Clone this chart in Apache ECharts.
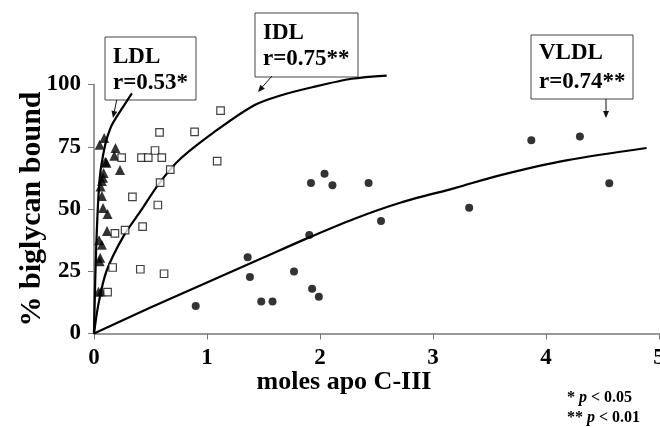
<!DOCTYPE html>
<html>
<head>
<meta charset="utf-8">
<script src="https://cdn.jsdelivr.net/npm/echarts@6/dist/echarts.min.js"></script>
<style>html,body{margin:0;padding:0;background:#fff;}#c{width:660px;height:427px;}</style>
</head>
<body>
<div id="c"></div>
<script>
// ---- data ----
const xTicks = [0, 1, 2, 3, 4, 5];
const yTicks = [0, 25, 50, 75, 100];

const ldlX = [0.09, 0.05, 0.19, 0.18, 0.10, 0.11, 0.23, 0.085, 0.08, 0.07, 0.058, 0.07, 0.08, 0.12, 0.115, 0.045, 0.07, 0.055, 0.05, 0.04, 0.065];
const ldlY = [78.5, 75.8, 74.5, 71.4, 69.0, 68.6, 65.7, 64.5, 62.6, 61.2, 59.0, 55.2, 50.4, 48.0, 41.2, 37.5, 35.6, 30.4, 29.0, 16.8, 17.0];

const idlX = [1.12, 0.58, 0.89, 0.245, 0.42, 0.48, 0.54, 0.60, 1.09, 0.675, 0.585, 0.34, 0.565, 0.43, 0.275, 0.185, 0.165, 0.41, 0.62, 0.12];
const idlY = [89.5, 80.8, 81.0, 70.6, 70.6, 70.6, 73.5, 70.6, 69.2, 65.8, 60.6, 54.9, 51.6, 42.9, 41.5, 40.2, 26.5, 25.8, 24.0, 16.6];

const vldlX = [0.90, 1.36, 1.38, 1.48, 1.58, 1.77, 1.905, 1.92, 1.93, 1.99, 2.04, 2.11, 2.43, 2.54, 3.32, 3.87, 4.30, 4.56];
const vldlY = [11.0, 30.6, 22.7, 12.9, 12.9, 24.9, 39.6, 60.4, 18.0, 14.8, 64.2, 59.5, 60.4, 45.2, 50.5, 77.6, 79.1, 60.3];

// fitted curves
const ldlFitX = [0, 0.02, 0.05, 0.10, 0.15, 0.20, 0.25, 0.30, 0.335];
const ldlFitY = [0, 35, 62, 76, 83, 87, 90.5, 94, 96.4];

const idlFitX = [0, 0.04, 0.11, 0.26, 0.41, 0.58, 0.76, 1.06, 1.41, 1.65, 1.94, 2.28, 2.59];
const idlFitY = [0, 12, 25, 39, 49, 60.5, 70, 80.8, 91.5, 95.6, 99, 102.3, 103.6];

const vldlFitX = [0, 0.5, 1.0, 1.5, 1.9, 2.3, 2.71, 3.2, 3.59, 4.18, 4.89];
const vldlFitY = [0, 10.4, 20.5, 30.5, 38.5, 46, 52.5, 58.5, 63.5, 69.5, 74.5];

const FONT = '"Liberation Serif", "Times New Roman", serif';
const zip = (a, b) => a.map((v, i) => [v, b[i]]);

function arrow(x1, y1, x2, y2) {
  const ang = Math.atan2(y2 - y1, x2 - x1);
  const L = 7, W = 3;
  const bx = x2 - L * Math.cos(ang), by = y2 - L * Math.sin(ang);
  const px = -Math.sin(ang) * W, py = Math.cos(ang) * W;
  return [
    { type: 'line', shape: { x1: x1, y1: y1, x2: bx, y2: by }, style: { stroke: '#111', lineWidth: 1 } },
    { type: 'polygon', shape: { points: [[x2, y2], [bx + px, by + py], [bx - px, by - py]] }, style: { fill: '#111' } }
  ];
}
function box(x, y, w, h, t1, t2, ty1, ty2) {
  return [
    { type: 'rect', shape: { x: x, y: y, width: w, height: h }, style: { fill: '#fff', stroke: '#444', lineWidth: 1 } },
    { type: 'text', x: x + 8, y: ty1, style: { text: t1, font: 'bold 23px ' + FONT, fill: '#000', verticalAlign: 'middle' } },
    { type: 'text', x: x + 8, y: ty2, style: { text: t2, font: 'bold 23px ' + FONT, fill: '#000', verticalAlign: 'middle' } }
  ];
}

const chart = echarts.init(document.getElementById('c'), null, { renderer: 'canvas' });
const lineCommon = { type: 'line', showSymbol: false, smooth: 0.3, clip: false, lineStyle: { color: '#000', width: 2.2 }, silent: true, z: 3 };

chart.setOption({
  animation: false,
  backgroundColor: '#fff',
  grid: { left: 94, right: 1, top: 84.5, bottom: 93.5, containLabel: false, outerBoundsMode: 'none' },
  xAxis: {
    type: 'value', min: 0, max: 5, interval: 1,
    name: 'moles apo C-III', nameLocation: 'middle', nameGap: 36, nameMoveOverlap: false,
    nameTextStyle: { fontFamily: FONT, fontWeight: 'bold', fontSize: 26, color: '#000', verticalAlign: 'top', padding: [0, 65, 0, 0] },
    axisLine: { lineStyle: { color: '#777', width: 1.5 } },
    axisTick: { show: true, length: 6, lineStyle: { color: '#777' } },
    axisLabel: { fontFamily: FONT, fontWeight: 'bold', fontSize: 23, color: '#000', margin: 13,
      formatter: v => String(xTicks[xTicks.indexOf(v)]) },
    splitLine: { show: false }
  },
  yAxis: {
    type: 'value', min: 0, max: 100, interval: 25,
    name: '% biglycan bound', nameLocation: 'middle', nameGap: 47, nameRotate: 90, nameMoveOverlap: false,
    nameTextStyle: { fontFamily: FONT, fontWeight: 'bold', fontSize: 30, color: '#000' },
    axisLine: { show: true, lineStyle: { color: '#777', width: 1.5 } },
    axisTick: { show: true, length: 6, lineStyle: { color: '#777' } },
    axisLabel: { fontFamily: FONT, fontWeight: 'bold', fontSize: 23, color: '#000', margin: 13,
      formatter: v => String(yTicks[yTicks.indexOf(v)]) },
    splitLine: { show: false }
  },
  series: [
    Object.assign({ name: 'LDL fit', data: zip(ldlFitX, ldlFitY) }, lineCommon),
    Object.assign({ name: 'IDL fit', data: zip(idlFitX, idlFitY) }, lineCommon),
    Object.assign({ name: 'VLDL fit', data: zip(vldlFitX, vldlFitY) }, lineCommon),
    { name: 'LDL', type: 'scatter', symbol: 'triangle', symbolSize: 10, data: zip(ldlX, ldlY), itemStyle: { color: '#000' }, z: 4 },
    { name: 'IDL', type: 'scatter', symbol: 'rect', symbolSize: 7.5, data: zip(idlX, idlY),
      itemStyle: { color: '#fff', borderColor: '#111', borderWidth: 1.2 }, z: 4 },
    { name: 'VLDL', type: 'scatter', symbol: 'circle', symbolSize: 8, data: zip(vldlX, vldlY), itemStyle: { color: '#000' }, z: 4 }
  ],
  graphic: [].concat(
    box(105, 37, 91, 63, 'LDL', 'r=0.53*', 57.5, 83),
    box(255, 13, 103, 64, 'IDL', 'r=0.75**', 33.5, 59),
    box(531, 35, 102, 64, 'VLDL', 'r=0.74**', 53.5, 82),
    arrow(116.7, 100, 113, 118),
    arrow(272, 76, 258, 92),
    arrow(606, 99, 606, 118),
    [
      { type: 'text', x: 567, y: 398, style: { text: '{a|* }{i|p}{a| < 0.05}', verticalAlign: 'middle',
        rich: { a: { font: 'bold 16px ' + FONT, fill: '#000' }, i: { font: 'italic bold 16px ' + FONT, fill: '#000' } } } },
      { type: 'text', x: 567, y: 418, style: { text: '{a|** }{i|p}{a| < 0.01}', verticalAlign: 'middle',
        rich: { a: { font: 'bold 16px ' + FONT, fill: '#000' }, i: { font: 'italic bold 16px ' + FONT, fill: '#000' } } } }
    ]
  )
});
</script>
</body>
</html>
